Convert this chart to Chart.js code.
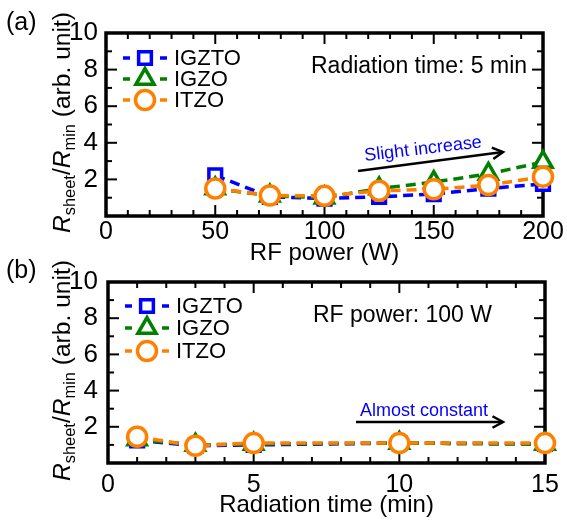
<!DOCTYPE html>
<html>
<head>
<meta charset="utf-8">
<script src="https://cdn.jsdelivr.net/npm/chart.js@4.4.1/dist/chart.umd.min.js"></script>
<style>
  html, body { margin: 0; padding: 0; background: #fff; }
  #wrap { position: relative; width: 567px; height: 520px; }
  canvas { position: absolute; left: 0; top: 0; }
</style>
</head>
<body>
<div id="wrap">
  <canvas id="chartA" width="567" height="520"></canvas>
  <canvas id="chartB" width="567" height="520"></canvas>
</div>
<script>
// panel (a): RF power sweep, radiation time 5 min
const rfPower = [50, 75, 100, 125, 150, 175, 200];
const igztoPower = [2.22, 1.05, 0.95, 1.05, 1.2, 1.5, 1.75];
const igzoPower = [1.5, 1.1, 1.0, 1.5, 1.85, 2.3, 2.95];
const itzoPower = [1.5, 1.12, 1.1, 1.38, 1.46, 1.69, 2.15];

// panel (b): radiation time sweep, RF power 100 W
const radTime = [1, 3, 5, 10, 15];
const igztoTime = [1.25, 0.95, 1.0, 1.1, 1.05];
const igzoTime = [1.3, 1.0, 1.05, 1.1, 1.05];
const itzoTime = [1.45, 0.95, 1.1, 1.1, 1.1];

const seriesNames = ['IGZTO', 'IGZO', 'ITZO'];
const seriesColors = ['#0000ff', '#008000', '#ff8000'];
const seriesStyles = ['rect', 'triangle', 'circle'];
const seriesRadius = [9, 10.5, 9.5];

const FONT = "'Liberation Sans', Arial, sans-serif";
Chart.defaults.font.family = FONT;
Chart.defaults.color = '#000';

function makeDatasets(xs, ys) {
  return ys.map((vals, i) => ({
    label: seriesNames[i],
    data: xs.map((x, j) => ({ x: x, y: vals[j] })),
    borderColor: seriesColors[i],
    borderWidth: 3.5,
    borderDash: [10, 6],
    pointStyle: seriesStyles[i],
    pointRadius: seriesRadius[i],
    pointBorderWidth: 3.5,
    pointBorderColor: seriesColors[i],
    pointBackgroundColor: '#fff',
    fill: false,
    tension: 0,
    clip: false,
    order: 2 - i
  }));
}

function line(ctx, x0, y0, x1, y1) {
  ctx.beginPath();
  ctx.moveTo(x0, y0);
  ctx.lineTo(x1, y1);
  ctx.stroke();
}

function drawArrow(ctx, x0, y0, x1, y1) {
  ctx.save();
  ctx.strokeStyle = '#000';
  ctx.lineWidth = 2.5;
  line(ctx, x0, y0, x1, y1);
  const ang = Math.atan2(y1 - y0, x1 - x0);
  const len = 12, spread = 0.5;
  ctx.beginPath();
  ctx.moveTo(x1 - len * Math.cos(ang - spread), y1 - len * Math.sin(ang - spread));
  ctx.lineTo(x1, y1);
  ctx.lineTo(x1 - len * Math.cos(ang + spread), y1 - len * Math.sin(ang + spread));
  ctx.stroke();
  ctx.restore();
}

// rotated axis title with italic R and subscripts, fitted to a given length
function drawYTitle(ctx, bx, cy, length) {
  const parts = [
    { t: 'R', f: 'italic 24px ' + FONT, dy: 0 },
    { t: 'sheet', f: '16px ' + FONT, dy: 5 },
    { t: '/', f: '24px ' + FONT, dy: 0 },
    { t: 'R', f: 'italic 24px ' + FONT, dy: 0 },
    { t: 'min', f: '16px ' + FONT, dy: 5 },
    { t: ' (arb. unit)', f: '24px ' + FONT, dy: 0 }
  ];
  ctx.save();
  ctx.translate(bx, cy);
  ctx.rotate(-Math.PI / 2);
  ctx.fillStyle = '#000';
  ctx.textBaseline = 'alphabetic';
  ctx.textAlign = 'left';
  let total = 0;
  parts.forEach(p => { ctx.font = p.f; p.w = ctx.measureText(p.t).width; total += p.w; });
  const k = length / total;
  ctx.scale(k, k);
  let x = -total / 2;
  parts.forEach(p => { ctx.font = p.f; ctx.fillText(p.t, x, p.dy); x += p.w; });
  ctx.restore();
}

// box frame with inward ticks on all four sides
const framePlugin = {
  id: 'frame',
  beforeDatasetsDraw(chart, args, opts) {
    const { ctx, chartArea: a, scales } = chart;
    ctx.save();
    ctx.strokeStyle = '#000';
    ctx.lineWidth = 2;
    for (let v = scales.x.min; v <= scales.x.max + 1e-9; v += opts.xMinor) {
      const px = scales.x.getPixelForValue(v);
      const major = Math.abs(v / opts.xMajor - Math.round(v / opts.xMajor)) < 1e-6;
      const len = major ? 11 : 6;
      line(ctx, px, a.bottom, px, a.bottom - len);
      line(ctx, px, a.top, px, a.top + len);
    }
    for (let v = 0; v <= 10; v += 1) {
      const py = scales.y.getPixelForValue(v);
      const len = v % 2 === 0 ? 11 : 6;
      line(ctx, a.left, py, a.left + len, py);
      line(ctx, a.right, py, a.right - len, py);
    }
    ctx.lineWidth = 3.5;
    ctx.strokeRect(a.left, a.top, a.right - a.left, a.bottom - a.top);
    ctx.restore();
  },
  afterDraw(chart, args, opts) {
    const ctx = chart.ctx;
    const a = chart.chartArea;
    drawYTitle(ctx, 70, (a.top + a.bottom) / 2 - 2, 221);

    ctx.save();
    ctx.fillStyle = '#000';
    ctx.textAlign = 'left';
    ctx.textBaseline = 'alphabetic';
    ctx.font = '25px ' + FONT;
    ctx.fillText(opts.panel, 6, opts.panelY);
    ctx.font = '23px ' + FONT;
    ctx.fillText(opts.note, opts.noteX, opts.noteY);

    // legend: dash - marker - dash, then name
    chart.data.datasets.forEach((ds, i) => {
      const cx = opts.legX, cy = opts.legY[i];
      ctx.strokeStyle = ds.borderColor;
      ctx.lineWidth = 3.5;
      line(ctx, cx - 22, cy, cx - 15, cy);
      line(ctx, cx + 15, cy, cx + 22, cy);
      ctx.fillStyle = '#fff';
      Chart.helpers.drawPoint(ctx, {
        pointStyle: ds.pointStyle, radius: ds.pointRadius, rotation: 0, borderWidth: 3.5
      }, cx, cy);
      ctx.fillStyle = '#000';
      ctx.font = '22px ' + FONT;
      ctx.textBaseline = 'middle';
      ctx.fillText(ds.label, opts.legX + 29, cy + 1);
    });

    // trend annotation
    ctx.fillStyle = '#0000ff';
    ctx.font = '18px ' + FONT;
    ctx.textBaseline = 'alphabetic';
    ctx.save();
    ctx.translate(opts.trendX, opts.trendY);
    ctx.rotate(opts.trendAngle);
    ctx.fillText(opts.trend, 0, 0);
    ctx.restore();
    drawArrow(ctx, opts.arrow[0], opts.arrow[1], opts.arrow[2], opts.arrow[3]);
    ctx.restore();
  }
};

function axisOptions(xMax, xStep, xTitle, xHeight, xPad, yWidth, yPad) {
  return {
    x: {
      type: 'linear', min: 0, max: xMax,
      afterFit: s => { s.height = xHeight; },
      grid: { display: false, drawTicks: false },
      border: { display: false },
      ticks: { stepSize: xStep, padding: xPad, font: { size: 25 }, maxRotation: 0, autoSkip: false, color: '#000' },
      title: { display: true, text: xTitle, font: { size: 24 }, padding: 0, color: '#000' }
    },
    y: {
      min: 0, max: 10,
      afterFit: s => { s.width = yWidth; },
      grid: { display: false, drawTicks: false },
      border: { display: false },
      ticks: { stepSize: 2, padding: yPad, font: { size: 26 }, autoSkip: false, color: '#000',
        callback: v => (v === 0 ? '' : v) }
    }
  };
}

new Chart(document.getElementById('chartA'), {
  type: 'line',
  data: { datasets: makeDatasets(rfPower, [igztoPower, igzoPower, itzoPower]) },
  plugins: [framePlugin],
  options: {
    responsive: false,
    animation: false,
    events: [],
    layout: { padding: { top: 33, right: 24, bottom: 252, left: 0 } },
    scales: axisOptions(200, 50, 'RF power (W)', 52, 1, 106, 8),
    plugins: {
      legend: { display: false },
      tooltip: { enabled: false },
      frame: {
        xMinor: 10, xMajor: 50,
        panel: '(a)', panelY: 30,
        note: 'Radiation time: 5 min', noteX: 311, noteY: 73,
        legX: 145, legY: [58, 79, 100],
        trend: 'Slight increase', trendX: 365, trendY: 161, trendAngle: -0.117,
        arrow: [358, 171, 503, 152]
      }
    }
  }
});

new Chart(document.getElementById('chartB'), {
  type: 'line',
  data: { datasets: makeDatasets(radTime, [igztoTime, igzoTime, itzoTime]) },
  plugins: [framePlugin],
  options: {
    responsive: false,
    animation: false,
    events: [],
    layout: { padding: { top: 282, right: 22, bottom: 0, left: 0 } },
    scales: axisOptions(15, 5, 'Radiation time (min)', 57, 7, 108, 10),
    plugins: {
      legend: { display: false },
      tooltip: { enabled: false },
      frame: {
        xMinor: 1, xMajor: 5,
        panel: '(b)', panelY: 278,
        note: 'RF power: 100 W', noteX: 313, noteY: 322,
        legX: 147, legY: [306, 328, 351],
        trend: 'Almost constant', trendX: 360, trendY: 416, trendAngle: 0,
        arrow: [356, 422, 503, 422]
      }
    }
  }
});
</script>
</body>
</html>
